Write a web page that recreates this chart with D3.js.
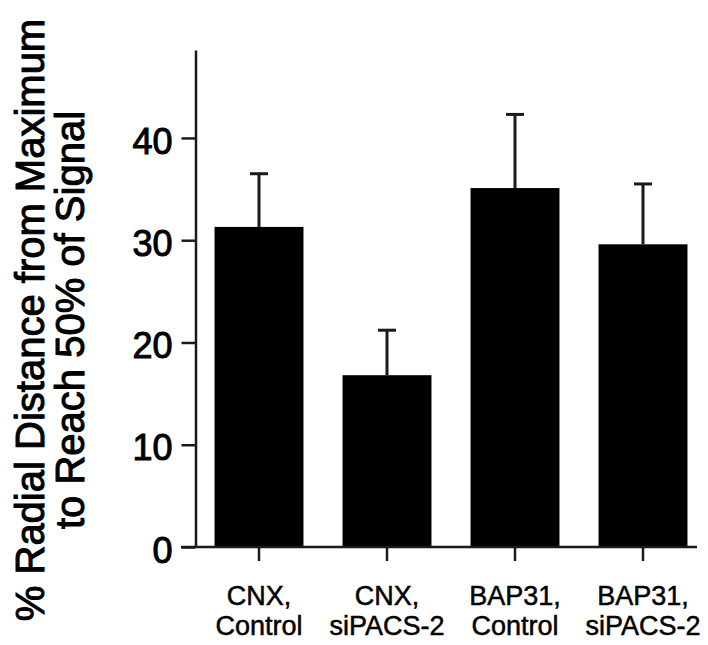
<!DOCTYPE html>
<html lang="en">
  <head>
    <meta charset="UTF-8">
    <title>Radial distance</title>
    <style>
      body { margin: 0; background: #fff; }
      svg { display: block; font-family: "Liberation Sans", Arial, Helvetica, sans-serif; }
    </style>
    <script src="https://d3js.org/d3.v7.min.js"></script>
  </head>
  <body>
    <script>
      var categories = [["CNX,", "Control"], ["CNX,", "siPACS-2"], ["BAP31,", "Control"], ["BAP31,", "siPACS-2"]];
      var means = [31.3, 16.8, 35.1, 29.6];
      var errTops = [36.5, 21.2, 42.3, 35.5];
      var yTicks = [0, 10, 20, 30, 40];
      var titleLines = ["% Radial Distance from Maximum", "to Reach 50% of Signal"];

      var width = 708, height = 645;
      var ink = "#1a1a1a";

      var svg = d3.select("body").append("svg")
        .attr("width", width)
        .attr("height", height);

      var keys = categories.map(function (d, i) { return i; });

      var x = d3.scaleBand().domain(keys)
        .range([195, 707])
        .paddingInner(0.305)
        .paddingOuter(0.1525);

      // y goes down in SVG
      var y = d3.scaleLinear().domain([0, 48.6]).range([547, 50]);

      // bars
      svg.selectAll("rect.bar").data(means).enter().append("rect")
        .attr("class", "bar")
        .attr("x", function (d, i) { return x(i); })
        .attr("y", function (d) { return y(d); })
        .attr("width", x.bandwidth())
        .attr("height", function (d) { return y(0) - y(d); })
        .attr("fill", "#000");

      // upper error bars
      var eb = svg.selectAll("g.err").data(errTops).enter().append("g").attr("class", "err");
      eb.append("line")
        .attr("x1", function (d, i) { return x(i) + x.bandwidth() / 2; })
        .attr("x2", function (d, i) { return x(i) + x.bandwidth() / 2; })
        .attr("y1", function (d, i) { return y(means[i]); })
        .attr("y2", function (d) { return y(d); })
        .attr("stroke", ink).attr("stroke-width", 3);
      eb.append("line")
        .attr("x1", function (d, i) { return x(i) + x.bandwidth() / 2 - 9; })
        .attr("x2", function (d, i) { return x(i) + x.bandwidth() / 2 + 9; })
        .attr("y1", function (d) { return y(d); })
        .attr("y2", function (d) { return y(d); })
        .attr("stroke", ink).attr("stroke-width", 3);

      // y axis
      var yAxis = d3.axisLeft(y).tickValues(yTicks).tickSize(14).tickSizeOuter(0).tickPadding(9);
      var gy = svg.append("g").attr("transform", "translate(195.5,0)").call(yAxis);
      gy.select(".domain").attr("stroke", ink).attr("stroke-width", 2.5);
      gy.selectAll(".tick line").attr("stroke", ink).attr("stroke-width", 2.5);
      gy.selectAll(".tick text")
        .attr("font-size", 36)
        .attr("fill", "#000")
        .attr("stroke", "#000")
        .attr("stroke-width", 1)
        .attr("dy", "0.42em");

      // x axis
      svg.append("line")
        .attr("x1", 181).attr("x2", 697)
        .attr("y1", y(0)).attr("y2", y(0))
        .attr("stroke", ink).attr("stroke-width", 2.5);

      var xAxis = d3.axisBottom(x).tickSize(14).tickSizeOuter(0).tickFormat("");
      var gx = svg.append("g").attr("transform", "translate(0," + y(0) + ")").call(xAxis);
      gx.select(".domain").remove();
      gx.selectAll(".tick line").attr("stroke", ink).attr("stroke-width", 2.5);

      var labels = svg.selectAll("text.xlab").data(categories).enter().append("text")
        .attr("class", "xlab")
        .attr("text-anchor", "middle")
        .attr("font-size", 27)
        .attr("fill", "#000")
        .attr("stroke", "#000")
        .attr("stroke-width", 0.5);
      labels.append("tspan")
        .attr("x", function (d, i) { return x(i) + x.bandwidth() / 2; })
        .attr("y", 605)
        .text(function (d) { return d[0]; });
      labels.append("tspan")
        .attr("x", function (d, i) { return x(i) + x.bandwidth() / 2; })
        .attr("y", 635)
        .text(function (d) { return d[1]; });

      // y title, two lines
      svg.selectAll("text.ytitle").data(titleLines).enter().append("text")
        .attr("class", "ytitle")
        .attr("text-anchor", "middle")
        .attr("font-size", 40)
        .attr("fill", "#000")
        .attr("stroke", "#000")
        .attr("stroke-width", 1)
        .attr("transform", function (d, i) {
          return "translate(" + (44 + i * 40) + ",320) rotate(-90)";
        })
        .text(function (d) { return d; });
    </script>
  </body>
</html>
